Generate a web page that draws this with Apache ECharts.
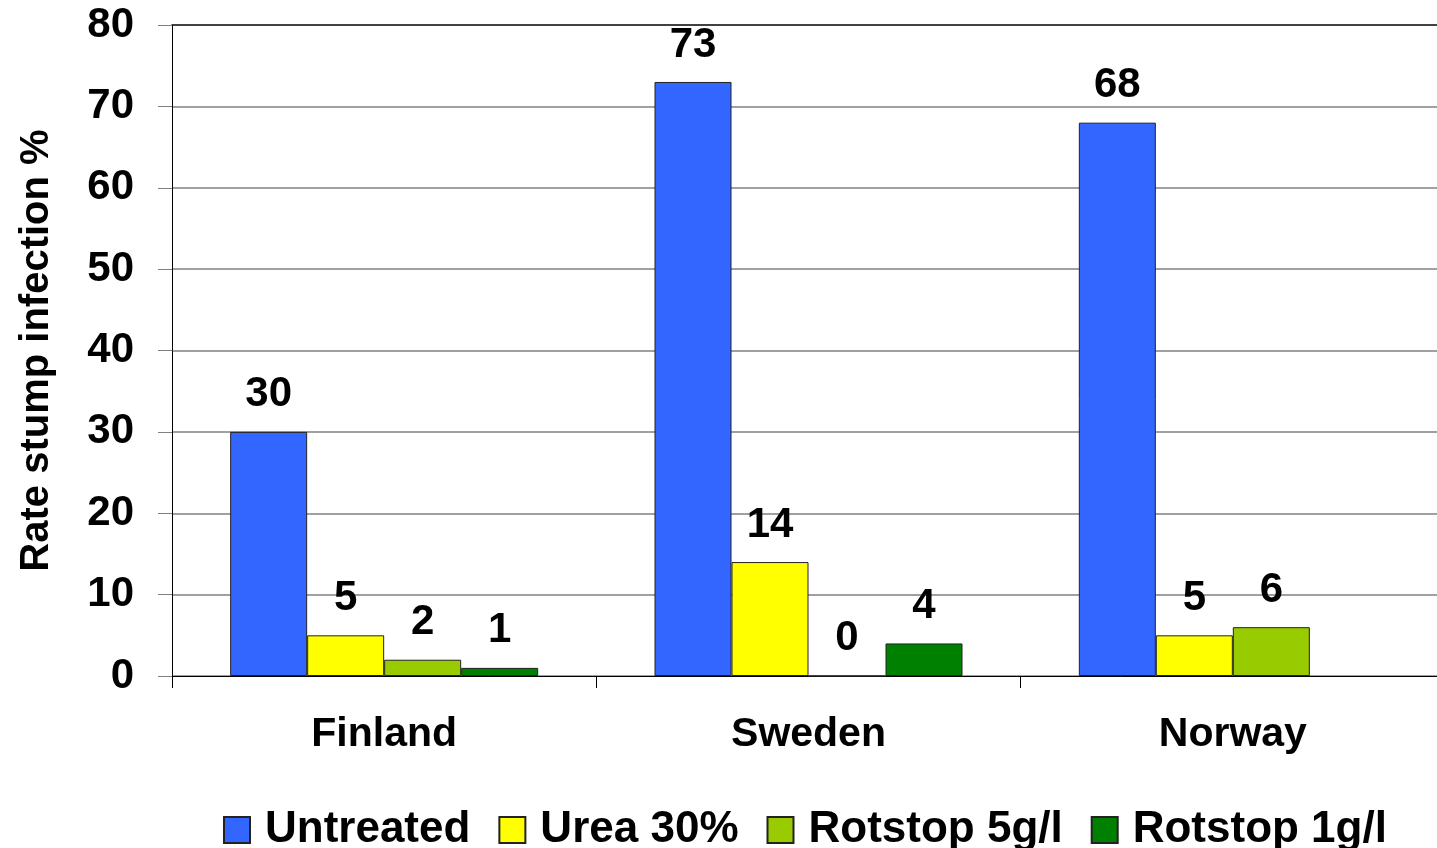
<!DOCTYPE html>
<html>
<head>
<meta charset="utf-8">
<script src="https://cdn.jsdelivr.net/npm/echarts@6/dist/echarts.min.js"></script>
<style>
  html, body { margin: 0; padding: 0; background: #fff; }
  #main { width: 1437px; height: 848px; }
</style>
</head>
<body>
<div id="main"></div>
<script>
// data
const countries = ['Finland', 'Sweden', 'Norway'];
const untreated = [30, 73, 68];
const urea30 = [5, 14, 5];
const rotstop5 = [2, 0, 6];
const rotstop1 = [1, 4, null];
const seriesNames = ['Untreated', 'Urea 30%', 'Rotstop 5g/l', 'Rotstop 1g/l'];
const seriesColors = ['#3366FF', '#FFFF00', '#99CC00', '#008000'];

const font = 'Liberation Sans, Arial, sans-serif';
const chart = echarts.init(document.getElementById('main'));

function barSeries(name, data, color) {
  return {
    name: name,
    type: 'bar',
    data: data,
    barWidth: 77,
    barGap: '0%',
    itemStyle: { color: color, borderColor: '#222', borderWidth: 1 },
    label: {
      show: true,
      position: 'top',
      distance: 16,
      color: '#000',
      fontFamily: font,
      fontWeight: 'bold',
      fontSize: 42
    }
  };
}

const allData = [untreated, urea30, rotstop5, rotstop1];

chart.setOption({
  animation: false,
  backgroundColor: '#fff',
  // plot area runs a little past the right edge of the picture
  grid: { left: 172, top: 25, bottom: 172, width: 1273, outerBoundsMode: 'none', containLabel: false },
  legend: {
    left: 218,
    top: 803,
    itemWidth: 26,
    itemHeight: 26,
    itemGap: 28,
    icon: 'rect',
    textStyle: { fontFamily: font, fontWeight: 'bold', fontSize: 44, color: '#000', padding: [0, 0, 0, 10] },
    data: seriesNames
  },
  xAxis: [{
    type: 'category',
    data: countries,
    axisLine: { lineStyle: { color: '#000', width: 1 } },
    axisTick: { show: true, length: 12, lineStyle: { color: '#000' } },
    axisLabel: { margin: 38, color: '#000', fontFamily: font, fontWeight: 'bold', fontSize: 41 }
  }, {
    type: 'category',
    position: 'top',
    data: countries,
    axisLine: { show: true, lineStyle: { color: '#222', width: 1.5 } },
    axisTick: { show: false },
    axisLabel: { show: false }
  }],
  yAxis: {
    type: 'value',
    min: 0,
    max: 80,
    interval: 10,
    name: 'Rate stump infection %',
    nameLocation: 'middle',
    nameGap: 115,
    nameTextStyle: { fontFamily: font, fontWeight: 'bold', fontSize: 40, color: '#000' },
    axisLine: { show: true, lineStyle: { color: '#000', width: 1 } },
    axisTick: { show: true, length: 14, lineStyle: { color: '#808080' } },
    axisLabel: { margin: 38, color: '#000', fontFamily: font, fontWeight: 'bold', fontSize: 42 },
    splitLine: { lineStyle: { color: '#808080', width: 1.5 } }
  },
  series: seriesNames.map((n, i) => barSeries(n, allData[i], seriesColors[i]))
});
</script>
</body>
</html>
